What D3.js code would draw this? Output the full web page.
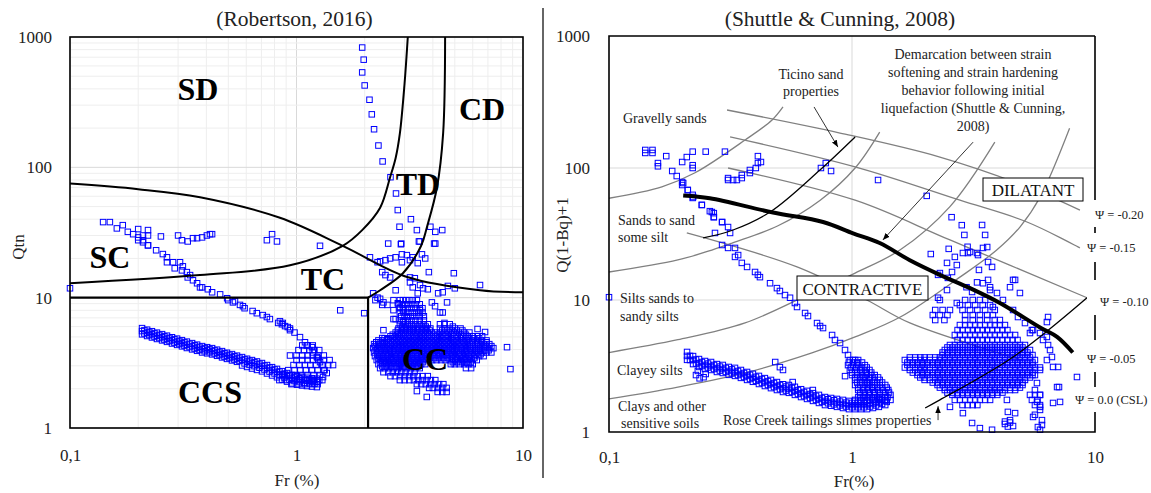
<!DOCTYPE html>
<html>
<head>
<meta charset="utf-8">
<script src="https://cdn.jsdelivr.net/npm/d3@7"></script>
<style>
  body { margin: 0; background: #fff; }
</style>
</head>
<body>
<script>
const FONT = '"Palatino Linotype","Book Antiqua",Palatino,"Liberation Serif",serif';

// ---------- Left chart data (Robertson, 2016): [Fr %, Qtn] ----------
const trailL = [[1.95,830],[1.98,670],[1.95,535],[2.0,425],[2.1,330],[2.15,255],[2.2,196],[2.3,147],[2.4,111],[2.6,84],[2.75,63],[2.8,47],[2.85,35],[2.9,26]];

const scL = [[0.1,11.8],[0.14,38],[0.15,38],[0.161,34],[0.171,36],[0.18,32],[0.19,30.7],[0.2,33.6],[0.2,29],[0.21,30],[0.21,27.6],[0.221,33],[0.221,30],[0.221,25.2],[0.252,29.5],[0.30,30],[0.312,27.6],[0.331,27],[0.349,28.6],[0.364,28.6],[0.383,29],[0.402,30],[0.415,30.7],[0.424,30.7],[0.74,27.6],[0.78,30.7],[0.82,27],
  [0.2,27.6],[0.21,26.6],[0.221,25.2],[0.24,23.1],[0.257,21.6],[0.268,20.4],[0.268,18.7],[0.285,18.7],[0.29,16.8],[0.306,18.7],[0.312,16.2],[0.315,17.4],[0.328,15.7],[0.331,14.3],[0.339,14.9],[0.349,13.6],[0.364,12.9],[0.375,12.0],[0.383,12.0],[0.406,11.6],[0.424,11.0],[0.46,10.6],[0.494,9.9],[0.499,9.57],[0.524,9.2],[0.535,9.4],[0.563,8.8],[0.58,8.6],[0.59,8.3],[0.64,7.9],[0.668,7.6],[0.71,7.35],[0.74,7.1],[0.763,6.85],[0.83,6.4],[0.862,6.25],[0.89,6.05],[0.915,5.95],[0.936,5.63],[0.845,6.6],[0.87,6.4],[0.936,5.8],[0.98,5.4],[1.036,4.98],[1.09,4.55],[1.11,4.3],[1.17,4.17],[1.18,3.8],[1.23,3.5],[1.24,3.44],[1.27,3.2],[1.31,3.04],[1.33,2.78],[1.36,2.64],[1.31,2.46],[1.30,2.33],[1.24,2.25],[1.18,2.25]];

const tdL = [[2.54,26],[2.89,25.7],[3.47,27],[4.05,26],[3.2,40],[3.4,33],[3.9,35],[4.1,32],[4.4,33],[3.5,27],[4.1,26],[1.27,25],
  [2.11,20.4],[2.28,18.7],[2.34,19],[2.47,19.4],[2.59,20],[2.74,20.4],[2.92,21.5],[3.07,21.2],[3.26,20.4],[3.58,21.5],[3.7,20],[2.92,18.7],[3.17,19.4],[3.43,18.4],
  [2.39,15.7],[2.47,14.9],[2.59,14.3],[3.84,15.7],[4.95,15.4],[6.46,12.5],[4.66,12.3],[5.0,11.8],[3.17,14.3],[3.33,14.1],[3.17,13.1],[3.51,12.5],[3.62,11.8],[2.74,11.4],[3.26,12.0],[3.43,10.8],[3.8,11.6],[4.22,10.8],[4.42,11.0],[3.96,9.2],[4.62,9.2],[4.42,7.7],[4.09,8.6],[1.99,7.6],[3.51,8.02],[1.56,8.0],
  [2.18,10.8],[2.28,10.0],[2.23,9.57],[2.34,9.8],[2.42,9.2],[2.52,8.8],[2.39,8.8],[2.68,9.57],[2.8,9.06],[2.86,8.4],[2.95,8.02],[2.68,8.02],[2.74,6.85],[2.95,6.5],[3.07,7.1],
  [8.5,4.17],[8.8,2.83],[3.76,1.73],[3.4,1.92],[6.8,5.45],[6.3,5.75],[2.42,5.63],[2.39,4.9],[2.52,4.8],[2.68,6.85],[4.3,7.7],[4.5,6.4],[4.9,6.0],[0.936,3.6]];

// dense CC cloud, read row by row: [Qtn, [Fr...]]
const ccRowsL = [
  [9.57,[2.86,2.95,3.05,3.15,3.26,3.4]],
  [8.9,[2.82,2.92,3.02,3.12,3.24,3.36,3.5]],
  [8.3,[2.86,2.98,3.1,3.22,3.35,3.5,3.6]],
  [7.7,[2.86,2.97,3.08,3.2,3.32,3.45,3.6]],
  [7.2,[2.9,3.0,3.12,3.25,3.38,3.5,3.65]],
  [6.7,[2.86,2.97,3.1,3.22,3.35,3.5,3.65]],
  [6.25,[2.86,2.98,3.1,3.22,3.35,3.5,3.65,3.8,4.3,4.5,4.75]],
  [6.0,[2.92,3.04,3.16,3.28,3.42,3.57,3.72]],
  [5.8,[2.82,2.93,3.05,3.18,3.3,3.45,3.6,3.75,3.9,4.3,4.5,4.75,5.0,5.3]],
  [5.6,[2.8,2.92,3.04,3.16,3.28,3.42,3.57,3.72,3.87,4.4,4.62,4.85,5.1,5.4]],
  [5.4,[2.74,2.86,2.98,3.1,3.22,3.35,3.5,3.65,3.8,3.95,4.1,4.3,4.5,4.7,4.95,5.2,5.5,5.8]],
  [5.2,[2.66,2.78,2.9,3.02,3.14,3.27,3.4,3.55,3.7,3.86,4.03,4.2,4.4,4.6,4.82,5.05,5.3,5.6]],
  [5.06,[2.6,2.72,2.84,2.96,3.08,3.2,3.33,3.47,3.62,3.78,3.95,4.12,4.3,4.5,4.7,4.92,5.15,5.4,5.7,6.0,6.3,6.6]],
  [4.88,[2.45,2.55,2.65,2.76,2.88,3.0,3.13,3.27,3.4,3.55,3.7,3.86,4.03,4.2,4.4,4.6,4.82,5.05,5.3,5.55,5.8,6.1,6.4]],
  [4.7,[2.3,2.4,2.5,2.6,2.7,2.82,2.94,3.06,3.2,3.33,3.47,3.62,3.78,3.95,4.12,4.3,4.5,4.7,4.92,5.15,5.4,5.65,5.95,6.25,6.55,6.9]],
  [4.55,[2.25,2.35,2.45,2.55,2.65,2.77,2.89,3.01,3.14,3.27,3.41,3.55,3.7,3.87,4.04,4.22,4.4,4.6,4.8,5.01,5.24,5.48,5.72,6.0,6.3,6.6,6.9]],
  [4.4,[2.2,2.3,2.4,2.5,2.6,2.72,2.84,2.96,3.08,3.2,3.34,3.48,3.63,3.79,3.96,4.13,4.31,4.5,4.7,4.9,5.12,5.35,5.6,5.85,6.15,6.45,6.75,7.1]],
  [4.25,[2.22,2.32,2.42,2.52,2.64,2.76,2.88,3.0,3.13,3.27,3.41,3.55,3.71,3.87,4.04,4.22,4.4,4.6,4.8,5.01,5.24,5.48,5.72,6.0,6.3,6.6,6.9,7.25]],
  [4.1,[2.18,2.27,2.37,2.47,2.58,2.7,2.82,2.94,3.06,3.2,3.34,3.48,3.63,3.79,3.96,4.13,4.31,4.5,4.7,4.9,5.12,5.35,5.6,5.85,6.15,6.45,6.75,7.1,7.4]],
  [3.95,[2.24,2.35,2.45,2.56,2.68,2.8,2.92,3.04,3.18,3.32,3.47,3.62,3.78,3.95,4.13,4.31,4.5,4.7,4.9,5.12,5.37,5.62,5.87,6.15,6.45,6.75,7.05]],
  [3.8,[2.2,2.3,2.4,2.5,2.62,2.74,2.86,2.98,3.11,3.25,3.4,3.55,3.7,3.87,4.04,4.22,4.4,4.6,4.8,5.0,5.25,5.5,5.75,6.0,6.3,6.6,6.9,7.25]],
  [3.68,[2.27,2.37,2.47,2.58,2.7,2.82,2.94,3.07,3.21,3.35,3.5,3.65,3.81,3.98,4.16,4.34,4.54,4.74,4.95,5.18,5.42,5.67,5.92,6.2,6.5]],
  [3.56,[2.22,2.32,2.42,2.53,2.64,2.76,2.88,3.0,3.14,3.28,3.42,3.57,3.73,3.9,4.07,4.25,4.44,4.64,4.85,5.06,5.3,5.55,5.8,6.1,6.4,6.7]],
  [3.44,[2.3,2.41,2.51,2.62,2.74,2.86,2.98,3.11,3.25,3.4,3.55,3.71,3.88,4.06,4.25,4.45,4.65,4.87,5.1,5.33,5.57,5.82,6.1]],
  [3.32,[2.26,2.36,2.46,2.57,2.68,2.8,2.92,3.05,3.18,3.32,3.47,3.62,3.8,3.97,4.15,4.35,4.55,4.75,5.0,5.2,5.45,5.7,5.95,6.25]],
  [3.2,[2.35,2.45,2.56,2.68,2.8,2.92,3.05,3.19,3.33,3.47,3.62,4.9,5.12,5.37,5.62,5.87]],
  [3.09,[2.3,2.4,2.5,2.62,2.74,2.86,2.99,3.12,3.26,3.4,3.55,3.7,4.8,5.0,5.25,5.5,5.75,6.0]],
  [2.98,[2.39,2.5,2.62,2.74,2.86,2.99,3.13,3.27,3.42]],
  [2.88,[2.34,2.45,2.56,2.68,2.8,2.93,3.06,3.2,3.35,3.5,5.6,5.9]],
  [2.68,[2.42,2.54,2.66,2.78,2.9,3.03,3.17,3.32]],
  [2.5,[2.6,2.72,2.86,3.0,3.14,3.28,3.43,3.6,3.8]],
  [2.33,[2.86,3.0,3.15,3.3,3.45,3.6,3.75,3.92,4.1]],
  [2.17,[3.4,3.55,3.72,3.9,4.08,4.26,4.45]],
  [2.03,[3.85,4.0,4.2,4.4,4.6]],
  [1.89,[4.2,4.4,4.6]]
];

// hook where the SC trail meets the CCS band
const hookRowsL = [
  [4.3,[1.06,1.12,1.18]],
  [3.96,[1.02,1.08,1.14,1.2,1.26]],
  [3.6,[1.0,1.06,1.12,1.18,1.25,1.32]],
  [3.32,[1.0,1.06,1.12,1.18,1.25,1.32,1.4]],
  [3.04,[0.97,1.03,1.09,1.15,1.22,1.3,1.38,1.45]],
  [2.78,[0.92,0.98,1.04,1.1,1.17,1.24,1.32]],
  [2.55,[0.87,0.93,0.99,1.05,1.12,1.19,1.27]],
  [2.33,[0.84,0.9,0.96,1.03,1.1,1.18,1.26]],
  [2.17,[0.95,1.02,1.09,1.17,1.24]]
];

// CCS band: Fr positions with Qtn read at several heights across the band
const ccsFr   = [0.208,0.219,0.230,0.242,0.255,0.268,0.282,0.297,0.312,0.328,0.346,0.364,0.383,0.403,0.424,0.446,0.469,0.493,0.519,0.546,0.575,0.605,0.636,0.669,0.704,0.741,0.780,0.820,0.863,0.908,0.955,1.005,1.057,1.112,1.170,1.23];
const ccsQtop = [5.84,5.68,5.53,5.39,5.25,5.11,4.97,4.85,4.72,4.6,4.48,4.36,4.25,4.17,4.1,3.99,3.89,3.78,3.69,3.59,3.5,3.4,3.32,3.24,3.15,3.04,2.93,2.84,2.73,2.64,2.55,2.5,2.46,2.43,2.41,2.39];
const ccsQmid = [5.54,5.39,5.25,5.11,4.98,4.85,4.72,4.60,4.48,4.36,4.25,4.14,4.03,3.96,3.89,3.79,3.69,3.59,3.50,3.41,3.32,3.23,3.15,3.07,2.99,2.88,2.78,2.69,2.59,2.50,2.42,2.37,2.33,2.31,2.29,2.27];
const ccsQbot = [5.23,5.08,4.95,4.82,4.7,4.58,4.45,4.34,4.23,4.11,4.01,3.91,3.8,3.74,3.67,3.58,3.48,3.39,3.3,3.22,3.02,2.94,2.86,2.79,2.72,2.62,2.53,2.45,2.35,2.27,2.2,2.15,2.12,2.1,2.08,2.06];
const ccsFr2  = [0.213,0.224,0.236,0.248,0.261,0.275,0.289,0.304,0.32,0.337,0.355,0.373,0.393,0.413,0.435,0.457,0.481,0.506,0.532,0.56,0.59,0.62,0.652,0.686,0.722,0.76,0.8,0.841,0.885,0.931,0.98,1.031,1.084,1.14,1.2];
const ccsQup  = [5.61,5.46,5.32,5.18,5.05,4.91,4.79,4.66,4.54,4.42,4.31,4.2,4.1,4.03,3.94,3.84,3.74,3.64,3.55,3.46,3.36,3.28,3.19,3.11,3.01,2.91,2.81,2.71,2.61,2.53,2.46,2.41,2.38,2.36,2.34];
const ccsQlo  = [5.31,5.17,5.03,4.9,4.77,4.65,4.52,4.41,4.29,4.18,4.07,3.97,3.88,3.81,3.73,3.63,3.53,3.44,3.35,3.27,3.13,3.05,2.98,2.9,2.81,2.71,2.62,2.53,2.44,2.35,2.29,2.25,2.22,2.2,2.18];

// classification boundaries (Robertson 2016)
const bndSD = [[0.1,75],[0.2,68],[0.375,59],[0.845,41],[1.6,25],[3.08,14.4],[6.46,11.4],[10,11.0]];
const bndSC = [[0.1,12.9],[0.375,14.9],[0.936,17.7],[1.6,25],[1.95,33],[2.34,49],[2.59,84],[2.74,118],[2.86,182],[3.0,440],[3.1,1000]];
const bndTD = [[4.53,1000],[4.44,182],[4.17,70],[3.77,35],[3.55,25],[2.95,15.4],[2.34,11.4],[2.07,10]];
const bndCCS = [[0.1,10],[2.07,10],[2.07,1]];

const zonesL = [
  {t:'SD', x:198, y:100}, {t:'CD', x:482, y:120}, {t:'TD', x:418, y:195},
  {t:'SC', x:110, y:268}, {t:'TC', x:323, y:290}, {t:'CC', x:425, y:370}, {t:'CCS', x:210, y:403}
];

// ---------- Right chart data (Shuttle & Cunning, 2008): [Fr %, Q(1-Bq)+1] ----------
const topR = [[0.141,137],[0.141,130],[0.151,137],[0.151,130],[0.159,109],[0.159,103],[0.172,123],[0.182,94.9],[0.19,86.9],[0.2,111],[0.2,78.3],[0.2,74.3],[0.209,121],[0.211,68.1],[0.221,133],[0.221,105],[0.221,100],[0.221,62.6],[0.221,59.3],[0.241,52.5],[0.25,133],[0.26,47.1],[0.27,45.5],[0.27,42.4],[0.292,38.9],[0.30,133],[0.309,81.1],[0.309,83.9],[0.324,81.1],[0.336,81.1],[0.352,83.9],[0.352,88.5],[0.38,91.6],[0.38,96.6],[0.402,100],[0.41,109],[0.41,123],[0.422,111],[0.745,100],[0.78,109],[0.82,94.9],[1.28,81.1],[2.03,61.5],[2.57,42.4],[2.83,36.9],[2.9,31.1],[2.99,25.3],[2.5,24.4],[0.1,10.5]];

const bandR = [[0.202,76.9],[0.211,68.1],[0.222,60.3],[0.241,52.5],[0.265,46.4],[0.27,42.5],[0.292,39],[0.309,35.7],[0.315,32.2],[0.273,32.2],[0.292,26.1],[0.309,24.8],[0.33,24.8],[0.34,21.9],[0.33,21.2],[0.352,19.1],[0.37,17.8],[0.399,16.3],[0.41,15.5],[0.418,14.9],[0.46,13.4],[0.491,12.3],[0.505,11.7],[0.53,10.9],[0.556,10.4],[0.582,9.49],[0.594,8.85],[0.641,7.97],[0.659,7.56],[0.718,6.69],[0.739,6.35],[0.76,6.13],[0.828,5.43],[0.851,4.98],[0.893,4.72],[0.936,4.18],[0.963,3.83],[1.01,3.51],[1.05,3.33],[1.08,2.95],[1.11,2.61],[1.15,2.35],[1.21,2.19],[1.24,2.01],[1.30,1.84],[1.39,1.69]];

const lowFr   = [0.2095,0.2218,0.2346,0.2483,0.263,0.278,0.294,0.311,0.330,0.349,0.370,0.391,0.414,0.438,0.464,0.491,0.520,0.550,0.582,0.617,0.653,0.691,0.731,0.774,0.820,0.867,0.918,0.972,1.029,1.089,1.153,1.22,1.29,1.37];
const lowQtop = [4.04,3.76,3.57,3.45,3.39,3.27,3.22,3.11,3.06,2.95,2.85,2.76,2.66,2.56,2.48,2.39,2.3,2.27,2.2,2.11,2.05,1.97,1.91,1.84,1.81,1.78,1.75,1.72,1.72,1.72,1.72,1.75,1.78,1.84];
const lowQmid = [3.77,3.51,3.33,3.22,3.16,3.05,3.0,2.9,2.85,2.75,2.66,2.57,2.48,2.39,2.31,2.23,2.15,2.12,2.05,1.97,1.91,1.84,1.78,1.72,1.69,1.66,1.63,1.60,1.60,1.60,1.60,1.63,1.66,1.72];
const lowQbot = [3.52,3.27,3.11,3.0,2.95,2.85,2.8,2.71,2.66,2.57,2.48,2.4,2.31,2.23,2.15,2.08,2.01,1.98,1.91,1.84,1.78,1.72,1.66,1.6,1.58,1.55,1.52,1.49,1.49,1.49,1.49,1.52,1.55,1.6];
const lowFr2  = [0.2155,0.2281,0.2413,0.2555,0.2705,0.286,0.3025,0.3205,0.3395,0.3595,0.3805,0.4025,0.426,0.451,0.4775,0.5055,0.535,0.566,0.5995,0.635,0.672,0.711,0.7525,0.797,0.8435,0.8925,0.945,1.0005,1.059,1.121,1.1865,1.255,1.33];
const lowQup  = [3.77,3.54,3.39,3.3,3.22,3.13,3.06,2.98,2.9,2.8,2.71,2.62,2.52,2.43,2.35,2.27,2.21,2.16,2.08,2.01,1.94,1.88,1.81,1.77,1.74,1.7,1.67,1.66,1.66,1.66,1.67,1.7,1.75];
const lowQlo  = [3.51,3.3,3.16,3.08,3.0,2.92,2.85,2.78,2.7,2.61,2.52,2.44,2.35,2.27,2.19,2.11,2.06,2.01,1.94,1.87,1.81,1.75,1.69,1.65,1.62,1.59,1.56,1.54,1.54,1.54,1.56,1.59,1.63];
const lowExtra = [[0.228,2.7],[0.236,2.55],[0.245,2.6],[0.25,2.75],[0.232,2.9],[0.483,3.39],[0.505,3.1],[0.52,2.95],[0.57,2.39],[0.69,2.08],[0.936,2.65]];

const dRowsR = [
  [3.51,[0.98,1.03,1.06]],
  [3.36,[0.97,1.01,1.05,1.1]],
  [3.21,[0.963,1.01,1.06,1.13]],
  [3.08,[0.99,1.04,1.1,1.15]],
  [2.95,[0.98,1.03,1.08,1.13,1.18]],
  [2.82,[1.0,1.05,1.1,1.15,1.2]],
  [2.7,[1.0,1.05,1.1,1.15,1.2,1.24]],
  [2.59,[1.03,1.08,1.13,1.18,1.24,1.28]],
  [2.48,[1.03,1.08,1.13,1.18,1.24,1.3]],
  [2.37,[1.05,1.1,1.16,1.21,1.27,1.33]],
  [2.27,[1.03,1.08,1.13,1.18,1.24,1.3,1.37]],
  [2.17,[1.06,1.11,1.16,1.21,1.27,1.33,1.39]],
  [2.08,[1.06,1.11,1.16,1.22,1.28,1.34,1.41]],
  [1.99,[1.08,1.13,1.18,1.24,1.3,1.37,1.42]],
  [1.91,[1.08,1.13,1.18,1.24,1.3,1.37,1.44]],
  [1.83,[1.06,1.11,1.16,1.21,1.27,1.33,1.4]],
  [1.75,[1.03,1.08,1.13,1.18,1.24,1.3,1.37,1.44]]
];

const coreRowsR = [
  [10.0,[2.92,3.14,3.36,3.53]],
  [9.15,[2.78,3.0,3.21,3.45,3.7]],
  [8.4,[2.2,2.36,2.53,2.85,3.06,3.28,3.53,3.87]],
  [7.69,[2.15,2.3,2.47,2.92,3.14,3.36,3.6,3.8]],
  [7.05,[2.2,2.4,2.92,3.14,3.36,3.6,3.87,4.06]],
  [6.46,[2.78,2.92,3.06,3.21,3.36,3.53,3.7,3.87,4.06,4.26]],
  [5.92,[2.72,2.85,3.0,3.14,3.28,3.45,3.6,3.78,3.96,4.16,4.36]],
  [5.43,[2.65,2.78,2.92,3.06,3.21,3.36,3.53,3.7,3.87,4.06,4.26,4.47,4.69]],
  [4.98,[2.72,2.85,2.99,3.14,3.28,3.45,3.6,3.78,3.96,4.16,4.36,4.58,4.8]],
  [4.56,[2.53,2.65,2.78,2.92,3.06,3.21,3.36,3.53,3.7,3.87,4.06,4.26,4.47,4.69,4.91,5.15]],
  [4.37,[2.47,2.59,2.72,2.85,2.99,3.14,3.28,3.45,3.6,3.78,3.96,4.16,4.36,4.58,4.8,5.03]],
  [4.18,[2.41,2.53,2.65,2.78,2.92,3.06,3.21,3.36,3.53,3.7,3.87,4.06,4.26,4.47,4.69,4.91,5.15,5.4]],
  [4.0,[2.36,2.47,2.59,2.72,2.85,2.99,3.14,3.28,3.45,3.6,3.78,3.96,4.16,4.36,4.58,4.8,5.03,5.27]],
  [3.83,[2.36,2.47,2.59,2.72,2.85,2.99,3.14,3.28,3.45,3.6,3.78,3.96,4.16,4.36,4.58,4.8,5.03,5.27,5.53]],
  [3.67,[1.73,1.82,1.91,1.99,2.09,2.2,2.3,2.41,2.53,2.65,2.78,2.92,3.06,3.21,3.36,3.53,3.7,3.87,4.06,4.26,4.47,4.69,4.91,5.15,5.4]],
  [3.51,[1.65,1.73,1.82,1.91,1.99,2.09,2.2,2.3,2.41,2.53,2.65,2.78,2.92,3.06,3.21,3.36,3.53,3.7,3.87,4.06,4.26,4.47,4.69,4.91,5.15,5.4,5.66]],
  [3.36,[1.69,1.78,1.86,1.95,2.04,2.15,2.25,2.36,2.47,2.59,2.72,2.85,2.99,3.14,3.28,3.45,3.6,3.78,3.96,4.16,4.36,4.58,4.8,5.03,5.27,5.53]],
  [3.22,[1.69,1.78,1.86,1.95,2.04,2.15,2.25,2.36,2.47,2.59,2.72,2.85,2.99,3.14,3.28,3.45,3.6,3.78,3.96,4.16,4.36,4.58,4.8,5.03,5.27,5.53]],
  [3.08,[1.65,1.73,1.82,1.91,1.99,2.09,2.2,2.3,2.41,2.53,2.65,2.78,2.92,3.06,3.21,3.36,3.53,3.7,3.87,4.06,4.26,4.47,4.69,4.91,5.15,5.4,5.66,5.94]],
  [2.95,[1.73,1.82,1.91,1.99,2.09,2.2,2.3,2.41,2.53,2.65,2.78,2.92,3.06,3.21,3.36,3.53,3.7,3.87,4.06,4.26,4.47,4.69,4.91,5.15,5.4,5.66,5.94]],
  [2.82,[1.78,1.86,1.95,2.04,2.15,2.25,2.36,2.47,2.59,2.72,2.85,2.99,3.14,3.28,3.45,3.6,3.78,3.96,4.16,4.36,4.58,4.8,5.03,5.27,5.53]],
  [2.70,[1.86,1.95,2.04,2.15,2.25,2.36,2.47,2.59,2.72,2.85,2.99,3.14,3.28,3.45,3.6,3.78,3.96,4.16,4.36,4.58,4.8,5.03,5.27,5.53]],
  [2.59,[1.91,1.99,2.09,2.2,2.3,2.41,2.53,2.65,2.78,2.92,3.06,3.21,3.36,3.53,3.7,3.87,4.06,4.26,4.47,4.69,4.91,5.15,5.4]],
  [2.48,[1.99,2.09,2.2,2.3,2.41,2.53,2.65,2.78,2.92,3.06,3.21,3.36,3.53,3.7,3.87,4.06,4.26,4.47,4.69,4.91,5.15]],
  [2.37,[2.15,2.25,2.36,2.47,2.59,2.72,2.85,2.99,3.14,3.28,3.45,3.6,3.78,3.96,4.16,4.36,4.58,4.8,5.03]],
  [2.27,[2.25,2.36,2.47,2.59,2.72,2.85,2.99,3.14,3.28,3.45,3.6,3.78,3.96,4.16,4.36,4.58,4.8,5.03]],
  [2.17,[2.3,2.41,2.53,2.65,2.78,2.92,3.06,3.21,3.36,3.53,3.7,3.87,4.06,4.26,4.47,4.69,4.91]],
  [2.08,[2.41,2.53,2.65,2.78,2.92,3.06,3.21,3.36,3.53,3.7,3.87,4.06,4.26,4.47,4.69]],
  [1.99,[2.47,2.59,2.72,2.85,2.99,3.14,3.28,3.45,3.6,3.78,3.96,4.16]],
  [1.91,[2.59,2.72,2.85,2.99,3.14,3.28,3.45,3.6,3.78,3.96,5.4,5.66,5.94]],
  [1.75,[2.65,2.78,2.92,3.06,3.21,3.36,3.53,3.7,5.5,5.8]],
  [1.60,[2.85,2.99,3.14,3.28,5.66,5.94]]
];

const scatterR = [[2.11,22.3],[2.26,15.5],[2.46,19.1],[2.65,21.2],[2.86,22.7],[3.06,23.1],[3.27,22.7],[3.46,24.8],[3.6,25.2],[3.43,37],[3.53,31.1],[3.63,19.4],[3.33,16.9],[2.3,16],[2.58,16.3],[2.7,18.4],[2.48,14.7],[2.46,11.9],[2.26,10.4],[2.3,10],[2.7,9.49],[3.46,13.4],[3.7,11.9],[3.8,8.85],[3.95,11.3],[4.47,12.5],[4.69,14.2],[4.18,10],[4.6,8.4],[4.82,7.43],[5.15,6.69],[5.4,5.62],[5.56,5.92],[5.94,5.62],[6.41,7.43],[6.34,6.81],[6.11,4.98],[6.41,4.56],[6.53,4.18],[6.65,3.7],[6.34,3.51],[6.72,3.11],[7.05,3.11],[7.11,2.19],[6.98,2.19],[7.18,1.69],[6.72,1.66],[8.43,2.61],[4.91,11.3],[4.6,14.2],[3.77,17.8],[3.3,21.9],[3.0,22.7],[5.5,5.92],[6.34,5.25],
  [3.27,13.6],[3.63,14.2],[3.7,12.5],[2.96,12.5],[3.12,11.5],
  [2.53,1.55],[2.86,1.39],[3.12,1.17],[3.36,1.07],[3.77,1.04],[4.38,1.42],[4.69,1.39],[4.34,1.75],[4.47,1.23],[4.26,1.15],[4.6,1.11],[5.56,1.3],[5.94,1.55],[6.05,1.23],[5.82,1.09],[5.94,1.04],
  [5.66,2.7],[5.77,2.35],[5.66,2.08],[5.94,1.91],[5.77,1.69],[5.94,1.47],[5.66,1.35],[6.05,1.13],[4.26,1.2],[4.47,1.18],[4.38,1.1]];

// soil behaviour boundaries (grey, rising) and state parameter lines (grey, falling)
const soilR = [
  [[0.1,59],[0.165,72],[0.226,92],[0.363,163],[0.469,231],[0.52,290]],
  [[0.1,16.3],[0.192,20.1],[0.265,23.9],[0.321,27],[0.496,36.5],[0.74,57],[1.03,100],[1.3,187]],
  [[0.1,4.0],[0.192,5.0],[0.363,6.7],[0.684,11.3],[1.03,16],[1.58,24],[2.53,51],[3.87,157]],
  [[0.1,1.78],[0.192,2.19],[0.363,2.8],[0.684,3.97],[1.03,5.25],[1.58,7.43],[2.78,14.9],[3.94,23.9],[4.91,35.7],[5.94,60],[7.86,200]]
];
const psiR = [
  [[0.306,275],[0.893,184],[2.3,121],[5.25,72],[8.67,48]],
  [[0.315,172],[1.03,102],[2.78,57],[5.25,39],[8.67,24.8]],
  [[0.309,100],[1.03,57],[2.53,28.5],[9.27,10.4]],
  [[0.209,32.2],[0.594,17.8],[1.15,10],[1.73,6.7],[5.0,3.5]]
];
const ticinoR = [[0.244,29.5],[0.324,33.9],[0.46,46.4],[0.738,96.6],[1.03,172]];
const roseR = [[2.0,1.52],[2.3,1.75],[4.6,3.7],[9.27,10.4]];
const demarcR = [[0.202,62],[0.26,59],[0.473,46],[0.76,39],[1.01,32],[1.3,27],[1.73,20],[2.3,15.5],[3.06,12.3],[4.06,9.5],[5.94,6.2],[6.98,5.25],[8.1,4.0]];
const arrowsR = [
  [[3.15,157],[1.34,28.5]],
  [[0.698,290],[0.875,144]],
  [[2.26,1.23],[2.26,1.57]]
];
const psiLabels = ['\u03A8 = -0.20','\u03A8 = -0.15','\u03A8 = -0.10','\u03A8 = -0.05','\u03A8 = 0.0 (CSL)'];

const rowsToPts = rows => rows.flatMap(([q, frs]) => frs.map(f => [f, q]));
const bandPts = (frs, ...qs) => qs.flatMap(q => frs.map((f, i) => [f, q[i]]));
const isMajor = d => Math.abs(Math.log10(d) - Math.round(Math.log10(d))) < 1e-6;

const svg = d3.select('body').append('svg')
  .attr('width', 1151)
  .attr('height', 493)
  .style('font-family', FONT);

svg.append('defs').append('marker')
  .attr('id', 'arr').attr('viewBox', '0 0 10 10')
  .attr('refX', 10).attr('refY', 5)
  .attr('markerUnits', 'userSpaceOnUse')
  .attr('markerWidth', 7).attr('markerHeight', 7)
  .attr('orient', 'auto')
  .append('path').attr('d', 'M0,1L10,5L0,9z').attr('fill', '#000');

function drawPts(g, pts, x, y) {
  g.append('g').selectAll('rect').data(pts).enter().append('rect')
    .attr('x', d => x(d[0]) - 2.75)
    .attr('y', d => y(d[1]) - 2.75)
    .attr('width', 5.5).attr('height', 5.5)
    .attr('fill', 'none').attr('stroke', '#0000ff').attr('stroke-width', 1);
}

function drawLine(g, pts, x, y, color, width, curved) {
  const line = d3.line().x(d => x(d[0])).y(d => y(d[1]));
  if (curved) line.curve(d3.curveCatmullRom.alpha(0.5));
  g.append('path').attr('d', line(pts))
    .attr('fill', 'none').attr('stroke', color).attr('stroke-width', width);
}

function styleAxis(g) {
  g.select('.domain').remove();
  g.attr('font-family', FONT).attr('font-size', 17);
  g.selectAll('text').attr('fill', '#222');
}

// ================= LEFT CHART =================
const xL = d3.scaleLog().domain([0.1, 10]).range([70, 523]);
const yL = d3.scaleLog().domain([1, 1000]).range([428, 37]);
const gL = svg.append('g');

gL.selectAll('.gx').data(xL.ticks()).enter().append('line')
  .attr('x1', d => xL(d)).attr('x2', d => xL(d)).attr('y1', 37).attr('y2', 428)
  .attr('stroke', d => isMajor(d) ? '#d9d9d9' : '#eeeeee');
gL.selectAll('.gy').data(yL.ticks()).enter().append('line')
  .attr('y1', d => yL(d)).attr('y2', d => yL(d)).attr('x1', 70).attr('x2', 523)
  .attr('stroke', d => isMajor(d) ? '#d9d9d9' : '#eeeeee');

drawPts(gL, trailL, xL, yL);
drawPts(gL, scL, xL, yL);
drawPts(gL, tdL, xL, yL);
drawPts(gL, rowsToPts(ccRowsL), xL, yL);
drawPts(gL, rowsToPts(hookRowsL), xL, yL);
drawPts(gL, bandPts(ccsFr, ccsQtop, ccsQmid, ccsQbot), xL, yL);
drawPts(gL, bandPts(ccsFr2, ccsQup, ccsQlo), xL, yL);

drawLine(gL, bndSD, xL, yL, '#000', 2, true);
drawLine(gL, bndSC, xL, yL, '#000', 2, true);
drawLine(gL, bndTD, xL, yL, '#000', 2, true);
drawLine(gL, bndCCS, xL, yL, '#000', 2.2, false);

gL.append('rect').attr('x', 70).attr('y', 37).attr('width', 453).attr('height', 391)
  .attr('fill', 'none').attr('stroke', '#000').attr('stroke-width', 1.6);

gL.append('g').attr('transform', 'translate(70,0)')
  .call(d3.axisLeft(yL).tickValues([1, 10, 100, 1000]).tickFormat(d3.format('d')).tickSize(0).tickPadding(18))
  .call(styleAxis);
gL.append('g').attr('transform', 'translate(0,428)')
  .call(d3.axisBottom(xL).tickValues([0.1, 1, 10]).tickFormat(d => d < 1 ? '0,1' : String(d)).tickSize(0).tickPadding(21))
  .call(styleAxis);

gL.selectAll('.zone').data(zonesL).enter().append('text')
  .attr('x', d => d.x).attr('y', d => d.y)
  .attr('text-anchor', 'middle').attr('font-size', 32).attr('font-weight', 'bold')
  .attr('fill', '#000').text(d => d.t);

gL.append('text').attr('x', 294.5).attr('y', 26).attr('text-anchor', 'middle')
  .attr('font-size', 21.5).attr('fill', '#222').text('(Robertson, 2016)');
gL.append('text').attr('transform', 'translate(24,247) rotate(-90)').attr('text-anchor', 'middle')
  .attr('font-size', 17).attr('fill', '#222').text('Qtn');
gL.append('text').attr('x', 297).attr('y', 486).attr('text-anchor', 'middle')
  .attr('font-size', 17).attr('fill', '#222').text('Fr (%)');

svg.append('line').attr('x1', 543).attr('x2', 543).attr('y1', 8).attr('y2', 478)
  .attr('stroke', '#333').attr('stroke-width', 1.5);

// ================= RIGHT CHART =================
const xR = d3.scaleLog().domain([0.1, 10]).range([609, 1095]);
const yR = d3.scaleLog().domain([1, 1000]).range([432, 36]);
const gR = svg.append('g');

gR.append('line').attr('x1', xR(1)).attr('x2', xR(1)).attr('y1', 36).attr('y2', 432).attr('stroke', '#d9d9d9');
gR.selectAll('.gy').data([10, 100]).enter().append('line')
  .attr('y1', d => yR(d)).attr('y2', d => yR(d)).attr('x1', 609).attr('x2', 1095).attr('stroke', '#d9d9d9');

soilR.forEach(c => drawLine(gR, c, xR, yR, '#808080', 1.3, true));
psiR.forEach(c => drawLine(gR, c, xR, yR, '#808080', 1.3, true));

drawPts(gR, topR, xR, yR);
drawPts(gR, bandR, xR, yR);
drawPts(gR, bandPts(lowFr, lowQtop, lowQmid, lowQbot), xR, yR);
drawPts(gR, bandPts(lowFr2, lowQup, lowQlo), xR, yR);
drawPts(gR, lowExtra, xR, yR);
drawPts(gR, rowsToPts(dRowsR), xR, yR);
drawPts(gR, rowsToPts(coreRowsR), xR, yR);
drawPts(gR, scatterR, xR, yR);

drawLine(gR, ticinoR, xR, yR, '#000', 1.3, true);
drawLine(gR, roseR, xR, yR, '#000', 1.3, true);
drawLine(gR, demarcR, xR, yR, '#000', 4, true);

arrowsR.forEach(a => {
  gR.append('line')
    .attr('x1', xR(a[0][0])).attr('y1', yR(a[0][1]))
    .attr('x2', xR(a[1][0])).attr('y2', yR(a[1][1]))
    .attr('stroke', '#000').attr('stroke-width', 0.8).attr('marker-end', 'url(#arr)');
});

// frame
gR.append('path').attr('d', 'M1095,36H609V432H1095V36')
  .attr('fill', 'none').attr('stroke', '#000').attr('stroke-width', 1.6);

// labels on the right edge, each on a white box that cuts the frame
const psiPos = [[1095,219,200,27],[1087,252,233,29],[1100,306,280,35],[1087,363,340,32],[1075,404,387,25]];
psiLabels.forEach((t, i) => {
  const p = psiPos[i];
  gR.append('rect').attr('x', Math.min(p[0], 1089) - 2).attr('y', p[2]).attr('width', 1151 - Math.min(p[0], 1089) + 2).attr('height', p[3]).attr('fill', '#fff');
  gR.append('text').attr('x', p[0]).attr('y', p[1]).attr('font-size', 12.5).attr('fill', '#222').text(t);
});

gR.append('g').attr('transform', 'translate(609,0)')
  .call(d3.axisLeft(yR).tickValues([1, 10, 100, 1000]).tickFormat(d3.format('d')).tickSize(0).tickPadding(19))
  .call(styleAxis);
gR.append('g').attr('transform', 'translate(0,432)')
  .call(d3.axisBottom(xR).tickValues([0.1, 1, 10]).tickFormat(d => d < 1 ? '0,1' : String(d)).tickSize(0).tickPadding(19))
  .call(styleAxis);

const notes = [
  {t:'Gravelly sands', x:623, y:123, a:'start'},
  {t:'Sands to sand', x:618, y:225, a:'start'},
  {t:'some silt', x:618, y:242, a:'start'},
  {t:'Silts sands to', x:620, y:303, a:'start'},
  {t:'sandy silts', x:620, y:321, a:'start'},
  {t:'Clayey silts', x:617, y:375, a:'start'},
  {t:'Clays and other', x:618, y:411, a:'start'},
  {t:'sensitive soils', x:621, y:428, a:'start'},
  {t:'Rose Creek tailings slimes properties', x:723, y:425, a:'start'},
  {t:'Ticino sand', x:811, y:79, a:'middle'},
  {t:'properties', x:811, y:96, a:'middle'},
  {t:'Demarcation between strain', x:973, y:59, a:'middle'},
  {t:'softening and strain hardening', x:973, y:77, a:'middle'},
  {t:'behavior following initial', x:973, y:95, a:'middle'},
  {t:'liquefaction (Shuttle & Cunning,', x:973, y:113, a:'middle'},
  {t:'2008)', x:973, y:131, a:'middle'}
];
gR.selectAll('.note').data(notes).enter().append('text')
  .attr('x', d => d.x).attr('y', d => d.y).attr('text-anchor', d => d.a)
  .attr('font-size', 14).attr('fill', '#222').text(d => d.t);

const boxes = [{t:'DILATANT', x:983, y:178, w:100, h:23}, {t:'CONTRACTIVE', x:797, y:276, w:131, h:24}];
boxes.forEach(b => {
  gR.append('rect').attr('x', b.x).attr('y', b.y).attr('width', b.w).attr('height', b.h)
    .attr('fill', '#fff').attr('stroke', '#000').attr('stroke-width', 1);
  gR.append('text').attr('x', b.x + b.w / 2).attr('y', b.y + b.h - 5).attr('text-anchor', 'middle')
    .attr('font-size', 17).attr('fill', '#111').text(b.t);
});

gR.append('text').attr('x', 840).attr('y', 26).attr('text-anchor', 'middle')
  .attr('font-size', 21.5).attr('fill', '#222').text('(Shuttle & Cunning, 2008)');
gR.append('text').attr('transform', 'translate(568,235) rotate(-90)').attr('text-anchor', 'middle')
  .attr('font-size', 17).attr('fill', '#222').text('Q(1-Bq)+1');
gR.append('text').attr('x', 854).attr('y', 487).attr('text-anchor', 'middle')
  .attr('font-size', 17).attr('fill', '#222').text('Fr(%)');
</script>
</body>
</html>
